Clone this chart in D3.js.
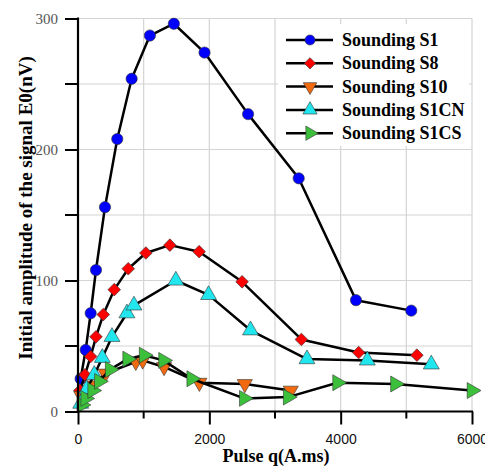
<!DOCTYPE html>
<html><head><meta charset="utf-8">
<script src="https://cdn.jsdelivr.net/npm/d3@7"></script>
<style>body{margin:0;background:#fff}</style>
</head><body>
<svg id="c" width="485" height="470"></svg>
<script>
const seriesNames = ["Sounding S1","Sounding S8","Sounding S10","Sounding S1CN","Sounding S1CS"];
const s1 = [[40,25],[117,47],[193,75],[274,108],[411,156],[598,208],[817,254],[1095,287],[1460,296],[1927,274],[2590,227],[3361,178],[4233,85],[5075,77]];
const s8 = [[30,16],[106,28],[193,42],[274,57],[385,74],[552,93],[765,109],[1034,121],[1399,127],[1845,122],[2499,99],[3402,55],[4274,45],[5161,43]];
const s10 = [[50,12],[213,20],[418,29],[880,38],[985,39],[1311,34],[1848,22],[2540,21],[3240,16]];
const s1cn = [[41,6],[132,17],[248,28],[370,41],[517,57],[745,75],[852,81],[1490,100],[1988,89],[2627,62],[3487,40],[4406,39],[5380,36]];
const s1cs = [[56,5],[114,10],[220,16],[322,23],[487,32],[753,40],[1004,43],[1300,39],[1729,25],[2529,10],[3198,11],[3950,22],[4832,21],[5997,16]];
const xTicks = [0,2000,4000,6000];
const xMinor = [1000,3000,5000];
const yTicks = [0,100,200,300];
const yMinor = [50,150,250];

const svg = d3.select("#c");
const L=78, R=472, T=18.5, B=411.5;
const x = d3.scaleLinear().domain([0,6000]).range([L,R]);
const y = d3.scaleLinear().domain([0,300]).range([B,T]);

// grid
const g = svg.append("g");
d3.range(1000,6001,1000).forEach(v=>g.append("line").attr("x1",x(v)).attr("x2",x(v)).attr("y1",T).attr("y2",B).attr("stroke","#d4d4d4").attr("stroke-width",1.2));
d3.range(50,301,50).forEach(v=>g.append("line").attr("x1",L).attr("x2",R).attr("y1",y(v)).attr("y2",y(v)).attr("stroke","#d4d4d4").attr("stroke-width",1.2));

const series = [
 {name:seriesNames[0], data:s1, fill:"#0000ff", sym:d3.symbolCircle, size:100, rot:0},
 {name:seriesNames[1], data:s8, fill:"#ff0000", sym:d3.symbolSquare, size:80, rot:45},
 {name:seriesNames[2], data:s10, fill:"#f26a10", sym:d3.symbolTriangle, size:100, rot:180},
 {name:seriesNames[3], data:s1cn, fill:"#22e6ee", sym:d3.symbolTriangle, size:110, rot:0},
 {name:seriesNames[4], data:s1cs, fill:"#3cc03c", sym:d3.symbolTriangle, size:110, rot:90},
];
const line = d3.line().x(d=>x(d[0])).y(d=>y(d[1]));
series.forEach(s=>{
  const gg = svg.append("g");
  gg.append("path").datum(s.data).attr("d",line).attr("fill","none").attr("stroke","#000").attr("stroke-width",2.5).attr("stroke-linejoin","round");
  gg.selectAll("path.m").data(s.data).enter().append("path").attr("class","m")
    .attr("d",d3.symbol().type(s.sym).size(s.size))
    .attr("transform",d=>`translate(${x(d[0])},${y(d[1])}) rotate(${s.rot})`)
    .attr("fill",s.fill).attr("stroke","#333").attr("stroke-width",0.6);
});

// axes
const xa = svg.append("g").attr("transform",`translate(0,${B})`)
  .call(d3.axisBottom(x).tickValues(xTicks).tickSize(13).tickFormat(d3.format("d")));
xa.select(".domain").attr("stroke-width",2.2);
xa.selectAll(".tick line").attr("stroke-width",2);
xa.selectAll("text").attr("font-family","Liberation Sans, Arial, sans-serif").attr("font-size",14).attr("fill","#111").attr("dy","0").attr("y",32);
xMinor.forEach(v=>svg.append("line").attr("x1",x(v)).attr("x2",x(v)).attr("y1",B).attr("y2",B+7).attr("stroke","#000").attr("stroke-width",2));

const ya = svg.append("g").attr("transform",`translate(${L},0)`)
  .call(d3.axisLeft(y).tickValues(yTicks).tickSize(13).tickFormat(d3.format("d")));
ya.select(".domain").attr("stroke-width",2.2);
ya.selectAll(".tick line").attr("stroke-width",2);
ya.selectAll("text").attr("font-family","Liberation Serif, Times New Roman, serif").attr("font-size",15).attr("fill","#555").attr("x",-20);
yMinor.forEach(v=>svg.append("line").attr("x1",L-13).attr("x2",L).attr("y1",y(v)).attr("y2",y(v)).attr("stroke","#000").attr("stroke-width",2));
xa.select(".domain").attr("d",`M${L-1},0H${R+1}`);
ya.select(".domain").attr("d",`M0,${B+1}V${T-1}`);

// titles
svg.append("text").attr("x",276).attr("y",462).attr("text-anchor","middle")
  .attr("font-family","Liberation Serif, Times New Roman, serif").attr("font-weight","bold").attr("font-size",18).text("Pulse q(A.ms)");
svg.append("text").attr("transform","translate(32,208) rotate(-90)").attr("text-anchor","middle")
  .attr("font-family","Liberation Serif, Times New Roman, serif").attr("font-weight","bold").attr("font-size",19).text("Initial amplitude of the signal E0(nV)");

// legend
const lg = svg.append("g");
lg.append("rect").attr("x",278).attr("y",24).attr("width",191).attr("height",122).attr("fill","#fff");
series.forEach((s,i)=>{
  const yy = 40 + i*23.3;
  lg.append("line").attr("x1",286).attr("x2",333).attr("y1",yy).attr("y2",yy).attr("stroke","#000").attr("stroke-width",2.5);
  lg.append("path").attr("d",d3.symbol().type(s.sym).size(s.size*0.8))
    .attr("transform",`translate(310,${yy}) rotate(${s.rot})`).attr("fill",s.fill).attr("stroke","#333").attr("stroke-width",0.6);
  lg.append("text").attr("x",342).attr("y",yy+6).attr("font-family","Liberation Serif, Times New Roman, serif")
    .attr("font-weight","bold").attr("font-size",18).text(s.name);
});
</script>
</body></html>
